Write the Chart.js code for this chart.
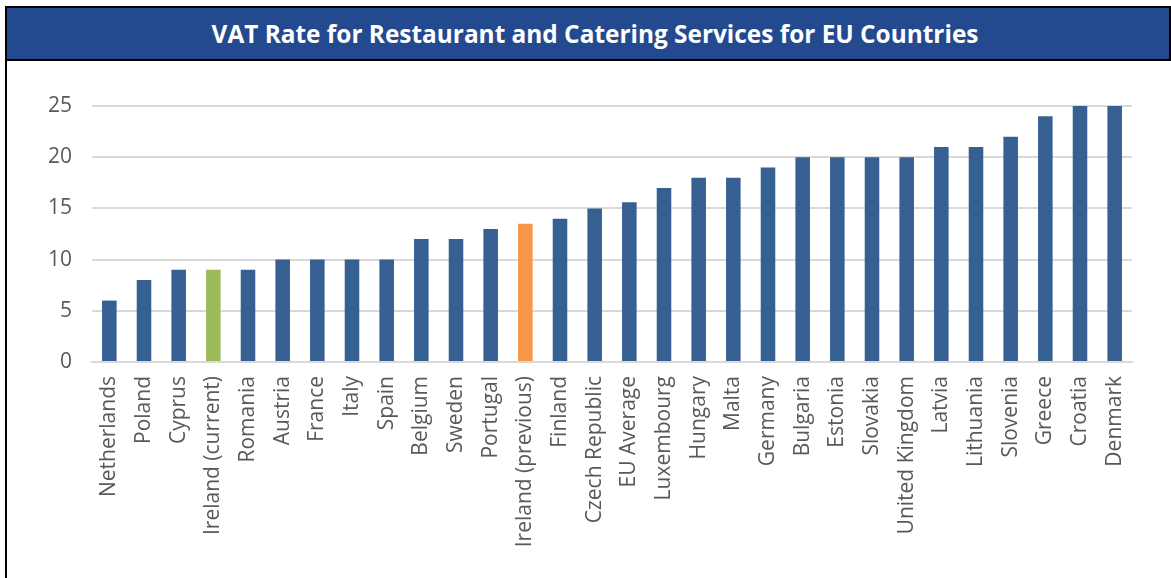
<!DOCTYPE html>
<html>
<head>
<meta charset="utf-8">
<script src="https://cdn.jsdelivr.net/npm/chart.js@4.4.1/dist/chart.umd.min.js"></script>
<style>
  html, body { margin: 0; padding: 0; background: #fff; }
  #frame {
    position: absolute; left: 5px; top: 6px; width: 1166px; height: 572px;
    border-left: 2px solid #000; box-sizing: border-box;
  }
  #title {
    position: absolute; left: 5px; top: 6px; width: 1166px; height: 55px;
    box-sizing: border-box; border: 2px solid #000; background: #234A8F;
    color: #fff; font: bold 24.4px "Open Sans", sans-serif;
    text-align: center; line-height: 51px; padding-left: 14px;
  }
  #wrap { position: absolute; left: 7px; top: 61px; width: 1164px; height: 517px; }
</style>
</head>
<body>
<div id="frame"></div>
<div id="title">VAT Rate for Restaurant and Catering Services for EU Countries</div>
<div id="wrap"><canvas id="vat"></canvas></div>
<script>
// countries, sorted by restaurant VAT rate
var countries = ["Netherlands", "Poland", "Cyprus", "Ireland (current)", "Romania", "Austria",
  "France", "Italy", "Spain", "Belgium", "Sweden", "Portugal", "Ireland (previous)", "Finland",
  "Czech Republic", "EU Average", "Luxembourg", "Hungary", "Malta", "Germany", "Bulgaria",
  "Estonia", "Slovakia", "United Kingdom", "Latvia", "Lithuania", "Slovenia", "Greece",
  "Croatia", "Denmark"];
var rates = [6, 8, 9, 9, 9, 10, 10, 10, 10, 12, 12, 13, 13.5, 14, 15, 15.6, 17, 18, 18, 19,
  20, 20, 20, 20, 21, 21, 22, 24, 25, 25];
var yTicks = [0, 5, 10, 15, 20, 25];

var BLUE = "#376092", GREEN = "#9BBB59", ORANGE = "#F79646";
var colours = countries.map(function (c) {
  if (c === "Ireland (current)") return GREEN;
  if (c === "Ireland (previous)") return ORANGE;
  return BLUE;
});

var ctx = document.getElementById("vat").getContext("2d");
new Chart(ctx, {
  type: "bar",
  data: {
    labels: countries,
    datasets: [{
      data: rates,
      backgroundColor: colours,
      borderWidth: 0,
      barPercentage: 0.84,
      categoryPercentage: 0.5
    }]
  },
  options: {
    responsive: true,
    maintainAspectRatio: false,
    animation: false,
    layout: { padding: { top: 45, right: 39, left: 0, bottom: 0 } },
    plugins: { legend: { display: false }, tooltip: { enabled: false } },
    scales: {
      x: {
        afterFit: function (s) { s.height = 216; },
        grid: { display: false, drawTicks: false },
        border: { color: "#D9D9D9", width: 2 },
        ticks: {
          color: "#595959", font: { family: "Open Sans", size: 21 },
          minRotation: 90, maxRotation: 90, autoSkip: false, padding: 14
        }
      },
      y: {
        min: 0, max: 25,
        afterFit: function (s) { s.width = 85; },
        afterBuildTicks: function (s) { s.ticks = yTicks.map(function (v) { return { value: v }; }); },
        grid: { color: "#D9D9D9", lineWidth: 2, drawTicks: false },
        border: { display: false },
        ticks: { color: "#595959", font: { family: "Open Sans", size: 21 }, padding: 20 }
      }
    }
  }
});
</script>
</body>
</html>
